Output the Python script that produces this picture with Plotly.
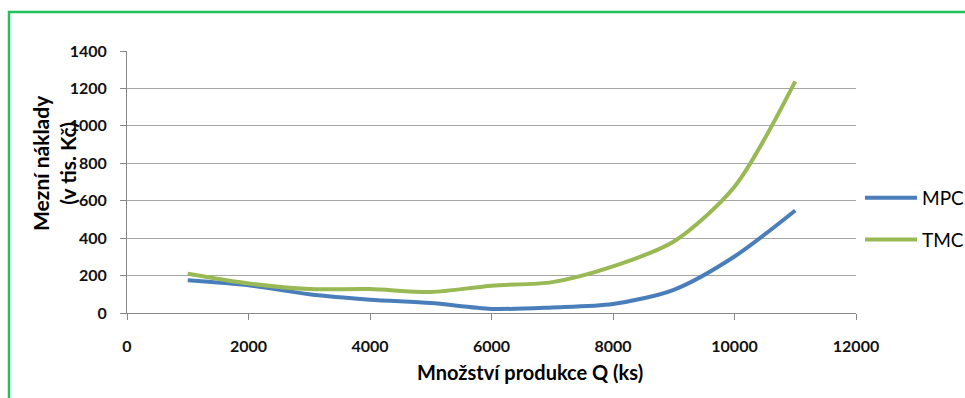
import plotly.graph_objects as go

# Production quantity Q (ks) and marginal costs (tis. Kč)
quantity = [1000, 2000, 3000, 4000, 5000, 6000, 7000, 8000, 9000, 10000, 11000]
mpc = [175, 148, 100, 71, 53, 22, 30, 48, 124, 302, 548]
tmc = [210, 158, 128, 128, 112, 146, 165, 249, 382, 675, 1238]

y_ticks = [0, 200, 400, 600, 800, 1000, 1200, 1400]
x_ticks = [0, 2000, 4000, 6000, 8000, 10000, 12000]

W, H = 965, 398
L, R, T, B = 127, 109, 51, 85

font_family = "Lato"
grid_col = "#a6a6a6"

fig = go.Figure()
fig.add_trace(go.Scatter(
    x=quantity, y=mpc, name="MPC", mode="lines",
    line=dict(color="#4a7ebb", width=4, shape="spline", smoothing=0.8),
    legendgroup="a",
))
fig.add_trace(go.Scatter(
    x=quantity, y=tmc, name="TMC", mode="lines",
    line=dict(color="#98b954", width=4, shape="spline", smoothing=0.8),
    legendgroup="b",
))

pw = W - L - R
ph = H - T - B

def px_x(p):
    return (p - L) / pw

def px_y(p):
    return (H - B - p) / ph

fig.update_layout(
    width=W, height=H,
    margin=dict(l=L, r=R, t=T, b=B, pad=0, autoexpand=False),
    paper_bgcolor="white", plot_bgcolor="white",
    font=dict(family=font_family, color="#000000"),
    showlegend=True,
    legend=dict(
        x=px_x(860), xanchor="left", y=px_y(179), yanchor="top",
        font=dict(size=19, family=font_family, color="#000000"),
        itemwidth=52, tracegroupgap=14, bgcolor="rgba(0,0,0,0)",
        borderwidth=0,
    ),
    xaxis=dict(
        range=[0, 12000], tickvals=x_ticks, ticktext=[str(v) for v in x_ticks],
        showgrid=False, zeroline=False,
        showline=True, linecolor="#888888", linewidth=1,
        ticks="outside", ticklen=6, tickcolor="#888888",
        tickfont=dict(size=16, family=font_family, weight="bold", color="#111111"),
        ticklabelstandoff=13,
    ),
    yaxis=dict(
        range=[0, 1400], tickvals=y_ticks, ticktext=[str(v) for v in y_ticks],
        showgrid=True, gridcolor=grid_col, gridwidth=1, zeroline=False,
        showline=True, linecolor="#888888", linewidth=1,
        ticks="outside", ticklen=6, tickcolor="#888888",
        tickfont=dict(size=16, family=font_family, weight="bold", color="#111111"),
        ticklabelstandoff=10,
    ),
    annotations=[
        dict(
            text="<b>Množství produkce Q (ks)</b>", xref="paper", yref="paper",
            x=px_x(530), y=px_y(372), xanchor="center", yanchor="middle",
            showarrow=False, font=dict(size=20, family=font_family, color="#000000"),
        ),
        dict(
            text="<b>Mezní náklady<br>(v tis. Kč)</b>", xref="paper", yref="paper",
            x=px_x(54), y=px_y(163), xanchor="center", yanchor="middle",
            textangle=-90, showarrow=False,
            font=dict(size=21, family=font_family, color="#000000"),
        ),
    ],
    shapes=[
        dict(
            type="path", xref="paper", yref="paper",
            path=f"M {px_x(9)},{px_y(H + 5)} L {px_x(9)},{px_y(12)} L {px_x(W + 5)},{px_y(12)}",
            line=dict(color="#22c05a", width=2.5),
        ),
    ],
)

fig.write_html("out.html")
